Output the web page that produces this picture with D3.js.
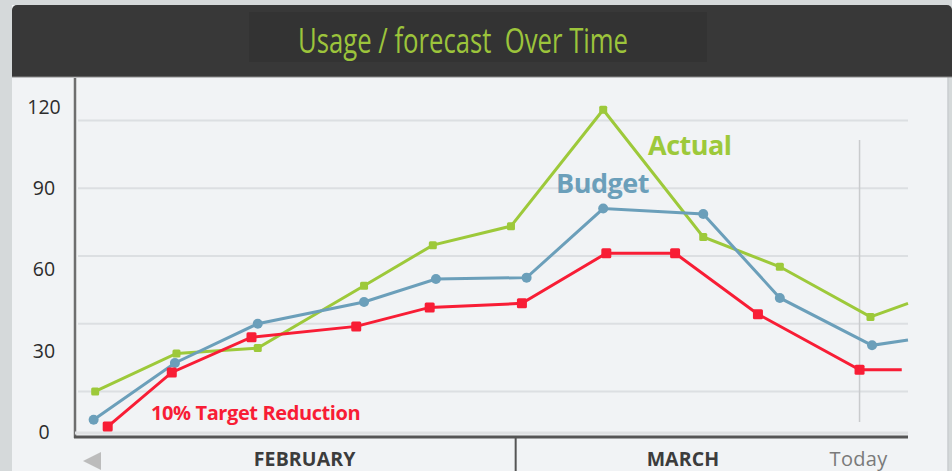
<!DOCTYPE html>
<html>
<head>
<meta charset="utf-8">
<script src="https://cdn.jsdelivr.net/npm/d3@7"></script>
<style>
  body { margin: 0; background: #d5d9da; }
  svg { display: block; font-family: "Open Sans", "DejaVu Sans", sans-serif; }
</style>
</head>
<body>
<div id="chart"></div>
<script>
// x values are days counted from Feb 1
const actualDays = [1.1, 6.3, 11.5, 18.3, 22.7, 27.7, 33.6, 40.0, 44.9, 50.7, 53.1]
const actualVals = [15, 29, 31, 54, 69, 76, 119, 72, 61, 42.5, 47.5]
const budgetDays = [1.0, 6.2, 11.5, 18.3, 22.9, 28.7, 33.6, 40.0, 44.9, 50.8, 53.1]
const budgetVals = [4.5, 25.5, 40, 48, 56.5, 57, 82.5, 80.5, 49.5, 32, 34]
const targetDays = [1.9, 6.0, 11.1, 17.8, 22.5, 28.4, 33.8, 38.2, 43.5, 50.0, 52.7]
const targetVals = [2, 22, 35, 39, 46, 47.5, 66, 66, 43.5, 23, 23]

const yTicks = [0, 30, 60, 90, 120]
const gridVals = [15, 40, 65, 90, 115]
const months = [{ name: "FEBRUARY", day: 14.5 }, { name: "MARCH", day: 38.7 }]
const monthBreak = 28
const today = 50

const W = 952, H = 471
const PLOT = { LEFT: 78, RIGHT: 908, TOP: 80, AXIS: 437 }

const svg = d3.select("#chart").append("svg")
    .attr("width", W)
    .attr("height", H)

// panel + header
svg.append("rect").attr("x", 12).attr("y", 5).attr("width", 936).attr("height", H)
    .attr("fill", "#f1f3f5")
svg.append("line").attr("x1", 948).attr("x2", 948).attr("y1", 77).attr("y2", H)
    .attr("stroke", "#c9cdcf").attr("stroke-width", 1.5)
svg.append("rect").attr("x", 12).attr("y", 5).attr("width", 940).attr("height", 72)
    .attr("rx", 5).attr("fill", "#383838")
svg.append("rect").attr("x", 12).attr("y", 60).attr("width", 940).attr("height", 17)
    .attr("fill", "#383838")
svg.append("rect").attr("x", 249).attr("y", 12).attr("width", 458).attr("height", 50)
    .attr("fill", "#333333")
svg.append("line").attr("x1", 12).attr("x2", 952).attr("y1", 77).attr("y2", 77)
    .attr("stroke", "#8a8a8a").attr("stroke-width", 1)
svg.append("text")
    .attr("x", 463).attr("y", 53)
    .attr("text-anchor", "middle")
    .attr("font-size", 34)
    .attr("textLength", 330)
    .attr("lengthAdjust", "spacingAndGlyphs")
    .style("white-space", "pre")
    .attr("fill", "#9cc43b")
    .text("Usage / forecast  Over Time")

const x = d3.scaleLinear().domain([0, 53.1]).range([PLOT.LEFT, PLOT.RIGHT])
const y = d3.scaleLinear().domain([0, 120]).range([432, 107])

// grid
svg.append("g").selectAll("line").data(gridVals).join("line")
    .attr("x1", PLOT.LEFT).attr("x2", PLOT.RIGHT)
    .attr("y1", d => y(d)).attr("y2", d => y(d))
    .attr("stroke", "#dcdfe2").attr("stroke-width", 2)

// y labels
svg.append("g").selectAll("text").data(yTicks).join("text")
    .attr("x", 44).attr("y", d => y(d))
    .attr("dy", "0.35em")
    .attr("text-anchor", "middle")
    .attr("font-size", 19.5)
    .attr("fill", "#2c2c2c")
    .text(d => d)

// axes lines
svg.append("line").attr("x1", 75).attr("x2", 75).attr("y1", 78).attr("y2", PLOT.AXIS + 1)
    .attr("stroke", "#6e6e6e").attr("stroke-width", 2.5)
svg.append("line").attr("x1", 75).attr("x2", PLOT.RIGHT).attr("y1", PLOT.AXIS - 4).attr("y2", PLOT.AXIS - 4)
    .attr("stroke", "#dfe1e3").attr("stroke-width", 3)
svg.append("line").attr("x1", 74).attr("x2", PLOT.RIGHT).attr("y1", PLOT.AXIS).attr("y2", PLOT.AXIS)
    .attr("stroke", "#555").attr("stroke-width", 3)

// month divider + today
svg.append("line").attr("x1", x(monthBreak)).attr("x2", x(monthBreak))
    .attr("y1", PLOT.AXIS).attr("y2", H)
    .attr("stroke", "#555").attr("stroke-width", 2)
svg.append("line").attr("x1", x(today)).attr("x2", x(today))
    .attr("y1", 140).attr("y2", 422)
    .attr("stroke", "#c9cbcd").attr("stroke-width", 1.5)

svg.append("g").selectAll("text").data(months).join("text")
    .attr("x", d => x(d.day)).attr("y", 466)
    .attr("text-anchor", "middle")
    .attr("font-size", 19.5).attr("font-weight", "bold")
    .attr("letter-spacing", 0.1)
    .attr("fill", "#3c3c3c")
    .text(d => d.name)
svg.append("text")
    .attr("x", x(today) - 1).attr("y", 466)
    .attr("text-anchor", "middle")
    .attr("font-size", 20)
    .attr("letter-spacing", 0.3)
    .attr("fill", "#7a7a7a")
    .text("Today")

// back arrow
svg.append("path").attr("d", "M83,461 L101,452 L101,470 Z").attr("fill", "#bcbcbc")

// series
const series = [
    { days: actualDays, vals: actualVals, color: "#9dc93a", shape: "square", size: 8 },
    { days: budgetDays, vals: budgetVals, color: "#6b9fba", shape: "circle", size: 10 },
    { days: targetDays, vals: targetVals, color: "#f81d35", shape: "square", size: 10 }
]
const line = d3.line().x(d => x(d[0])).y(d => y(d[1]))

series.forEach(s => {
    const pts = s.days.map((d, i) => [d, s.vals[i]])
    svg.append("path").datum(pts)
        .attr("d", line)
        .attr("fill", "none")
        .attr("stroke", s.color)
        .attr("stroke-width", 3)
    const marks = pts.slice(0, -1)
    if (s.shape === "circle") {
        svg.append("g").selectAll("circle").data(marks).join("circle")
            .attr("cx", d => x(d[0])).attr("cy", d => y(d[1]))
            .attr("r", s.size / 2).attr("fill", s.color)
    } else {
        svg.append("g").selectAll("rect").data(marks).join("rect")
            .attr("x", d => x(d[0]) - s.size / 2).attr("y", d => y(d[1]) - s.size / 2)
            .attr("width", s.size).attr("height", s.size)
            .attr("rx", 1.5).attr("fill", s.color)
    }
})

// series labels
svg.append("text").attr("x", 648).attr("y", 155)
    .attr("font-size", 27).attr("font-weight", "bold").attr("letter-spacing", -0.5)
    .attr("fill", "#9dc93a").text("Actual")
svg.append("text").attr("x", 556).attr("y", 193)
    .attr("font-size", 27).attr("font-weight", "bold").attr("letter-spacing", -0.5)
    .attr("fill", "#6b9fba").text("Budget")
svg.append("text").attr("x", 151).attr("y", 420)
    .attr("font-size", 20).attr("font-weight", "bold").attr("letter-spacing", -0.4)
    .attr("fill", "#f81d35").text("10% Target Reduction")
</script>
</body>
</html>
